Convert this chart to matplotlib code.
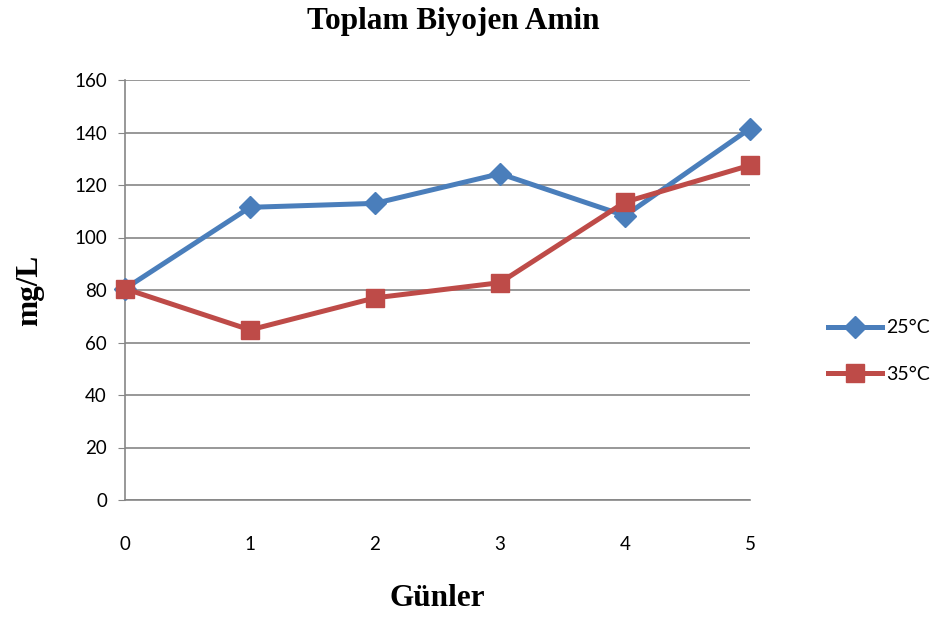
import matplotlib
matplotlib.use("Agg")
import matplotlib.pyplot as plt

days = [0, 1, 2, 3, 4, 5]
temp25 = [80.5, 111.5, 113, 124.3, 108.3, 141.5]
temp35 = [80.5, 64.8, 77, 82.8, 113.5, 127.5]
labels = ["25°C", "35°C"]

plt.rcParams["font.family"] = ["Lato", "DejaVu Sans"]

fig = plt.figure(figsize=(9.43, 6.19), dpi=100)
ax = fig.add_axes([125 / 943, 1 - 500 / 619, 625 / 943, 420 / 619])

ax.plot(days, temp25, color="#4a7ebb", lw=3.6, marker="D", markersize=11,
        label=labels[0], clip_on=False, zorder=3)
ax.plot(days, temp35, color="#be4b48", lw=3.6, marker="s", markersize=13,
        label=labels[1], clip_on=False, zorder=3)

ax.set_xlim(0, 5)
ax.set_ylim(0, 160)
ax.set_yticks(range(0, 161, 20))
ax.set_xticks(days)
ax.grid(axis="y", color="#868686", lw=1.2)
ax.set_axisbelow(True)
for s in ["top", "right"]:
    ax.spines[s].set_visible(False)
ax.spines["left"].set_color("#868686")
ax.spines["bottom"].set_color("#868686")
ax.spines["left"].set_linewidth(1.2)
ax.spines["bottom"].set_linewidth(1.2)
ax.tick_params(axis="y", length=5, color="#868686", labelsize=13.5, pad=8)
ax.tick_params(axis="x", length=0, labelsize=13.5, pad=26)

fig.text(453 / 943, 1 - 22 / 619, "Toplam Biyojen Amin", family="Liberation Serif",
         fontweight="bold", fontsize=22.5, ha="center", va="center")
ax.set_xlabel("Günler", family="Liberation Serif", fontweight="bold", fontsize=22.5,
              labelpad=22)
ax.set_ylabel("mg/L", family="Liberation Serif", fontweight="bold", fontsize=22.5,
              labelpad=22)

ax.legend(loc="center left", bbox_to_anchor=(828 / 943, 1 - 351 / 619),
          bbox_transform=fig.transFigure, frameon=False, borderpad=0,
          borderaxespad=0, fontsize=14, handlelength=2.8, labelspacing=1.5,
          handletextpad=0.2)

fig.savefig("out.png", dpi=100)
